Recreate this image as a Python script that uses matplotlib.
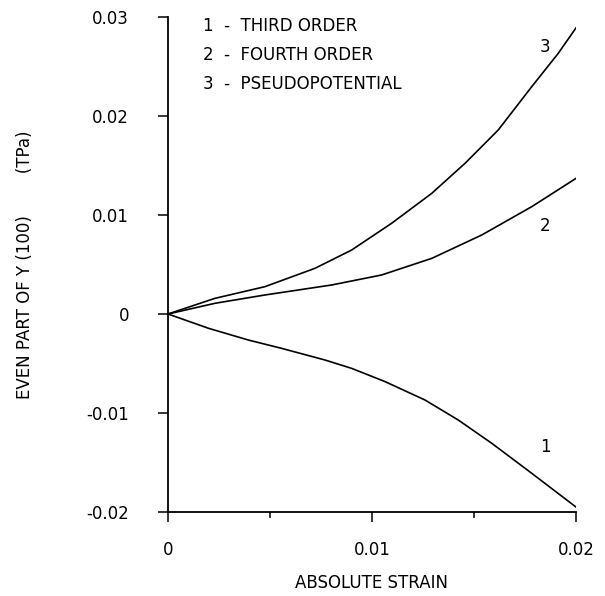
import matplotlib
matplotlib.use("Agg")
import matplotlib.pyplot as plt
from matplotlib.ticker import MultipleLocator

# curves (strain, even part of Y(100) in TPa)
strain_1 = [0, 0.00198, 0.00394, 0.00557, 0.0077, 0.009, 0.01064, 0.0126,
            0.01423, 0.01587, 0.01783, 0.02]
third_order = [0, -0.00144, -0.00263, -0.00347, -0.00465, -0.00549, -0.00683,
               -0.00869, -0.01071, -0.01306, -0.01609, -0.0195]

strain_2 = [0, 0.0023, 0.00475, 0.00802, 0.01047, 0.01293, 0.01538, 0.01783, 0.02]
fourth_order = [0, 0.00108, 0.00192, 0.00293, 0.00394, 0.00562, 0.00798, 0.01084, 0.0137]

strain_3 = [0, 0.0023, 0.00475, 0.0072, 0.009, 0.01096, 0.01293, 0.01456,
            0.01619, 0.01783, 0.01913, 0.02]
pseudopot = [0, 0.00158, 0.00276, 0.00461, 0.00646, 0.00916, 0.01219, 0.01522,
             0.01859, 0.02296, 0.02633, 0.0289]

legend_lines = ["1  -  THIRD ORDER", "2  -  FOURTH ORDER", "3  -  PSEUDOPOTENTIAL"]
xticks = [0, 0.01, 0.02]
xtick_labels = ["0", "0.01", "0.02"]
yticks = [-0.02, -0.01, 0, 0.01, 0.02, 0.03]
ytick_labels = ["-0.02", "-0.01", "0", "0.01", "0.02", "0.03"]

plt.rcParams['font.family'] = ['DejaVu Sans']

fig = plt.figure(figsize=(6.05, 5.96), dpi=100)
ax = fig.add_axes([168/605, 1 - 512/596, (576-168)/605, (512-17)/596])

ax.plot(strain_1, third_order, color='black', lw=1.2)
ax.plot(strain_2, fourth_order, color='black', lw=1.2)
ax.plot(strain_3, pseudopot, color='black', lw=1.2)

ax.set_xlim(0, 0.02)
ax.set_ylim(-0.02, 0.03)

for s in ['top', 'right']:
    ax.spines[s].set_visible(False)
for s in ['left', 'bottom']:
    ax.spines[s].set_linewidth(1.3)

ax.set_xticks(xticks)
ax.set_xticklabels(xtick_labels)
ax.xaxis.set_minor_locator(MultipleLocator(0.005))
ax.set_yticks(yticks)
ax.set_yticklabels(ytick_labels)
ax.tick_params(axis='both', which='major', direction='out', length=7, width=1.1,
               labelsize=12, pad=14)
ax.tick_params(axis='x', which='minor', direction='out', length=4, width=1.1)
ax.tick_params(axis='y', pad=21)

ax.set_xlabel("ABSOLUTE STRAIN", fontsize=12, labelpad=11)
ax.set_ylabel("EVEN PART OF Y (100)        (TPa)", fontsize=12, labelpad=38)

# curve numbers
ax.text(0.01848, 0.0270, "3", fontsize=12, ha='center', va='center')
ax.text(0.01848, 0.00885, "2", fontsize=12, ha='center', va='center')
ax.text(0.01848, -0.0134, "1", fontsize=12, ha='center', va='center')

# key in the upper left
for i, line in enumerate(legend_lines):
    ax.text(0.0017, 0.0291 - i * 0.00293, line, fontsize=12, ha='left', va='center')

plt.savefig("out.png", dpi=100)
